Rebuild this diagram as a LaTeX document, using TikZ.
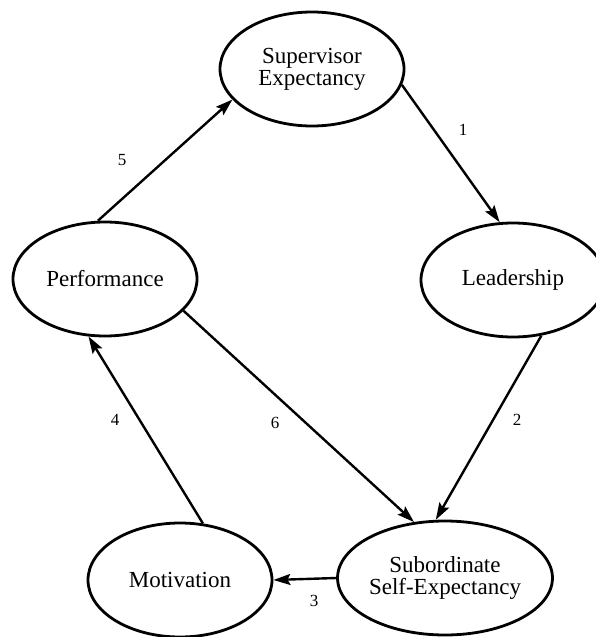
\documentclass[tikz,border=0pt]{standalone}
\usepackage{fontspec}
\setmainfont{Liberation Serif}
\usetikzlibrary{arrows.meta,shapes.geometric}

\tikzset{
  factor/.style={ellipse, draw, line width=2.8pt, minimum width=184pt,
    minimum height=114pt, inner sep=0pt, align=center,
    font=\fontsize{23}{22}\selectfont},
  link/.style={line width=2.4pt, -{Stealth[length=17pt,width=11pt,inset=3pt]}},
  num/.style={font=\fontsize{17}{17}\selectfont}
}

\begin{document}
\begin{tikzpicture}[x=1pt,y=-1pt]

\useasboundingbox (0,0) rectangle (596,637);

\node [factor] (sup)  at (312,69)  {Supervisor\\Expectancy};
\node [factor] (lead) at (513,280) {Leadership};
\node [factor] (perf) at (105,279) {Performance};
\node [factor] (mot)  at (180,580) {Motivation};
\node [factor] (sub)  at (445,578) {Subordinate\\Self-Expectancy};

\foreach \a/\b in {sup.-10/lead.103, lead.-63/sub.99, sub.180/mot.0,
                   mot.68/perf.-106, perf.97/sup.201, perf.-22/sub.119}
    \draw [link] (\a) -- (\b);

\node [num] (l1) at (463,130) {1};
\node [num] (l2) at (517,420) {2};
\node [num] (l3) at (314,601) {3};
\node [num] (l4) at (115,420) {4};
\node [num] (l5) at (122,160) {5};
\node [num] (l6) at (275,423) {6};

\end{tikzpicture}
\end{document}
